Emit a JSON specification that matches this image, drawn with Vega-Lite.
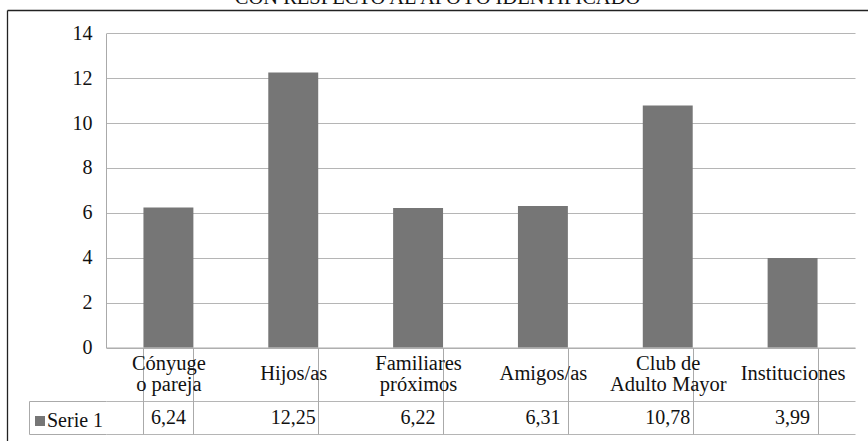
{
  "$schema": "https://vega.github.io/schema/vega-lite/v6.json",
  "width": 861,
  "height": 431,
  "autosize": {"type": "none"},
  "padding": {"left": 7, "top": 10, "right": 0, "bottom": 0},
  "background": "white",
  "title": {"text": "CON RESPECTO AL APOYO IDENTIFICADO", "fontSize": 20.5, "font": "Liberation Serif", "fontWeight": "normal", "color": "#111111", "baseline": "alphabetic", "offset": 0, "dy": 14, "anchor": "middle", "frame": "group"},
  "config": {
    "view": {"stroke": null},
    "font": "Liberation Serif",
    "locale": {"number": {"decimal": ",", "thousands": ".", "grouping": [3], "currency": ["", ""]}},
    "axis": {"labelFont": "Liberation Serif", "labelFontSize": 20, "labelColor": "#111111", "title": null, "domainColor": "#aaaaaa", "tickColor": "#aaaaaa", "gridColor": "#b5b5b5", "gridOpacity": 1},
    "legend": {"labelFont": "Liberation Serif", "labelFontSize": 20, "labelColor": "#111111", "padding": 0, "labelOffset": -3}
  },
  "data": {"values": [
    {"apoyo": "Cónyuge\no pareja", "valor": 6.24, "serie": "Serie 1"},
    {"apoyo": "Hijos/as", "valor": 12.25, "serie": "Serie 1"},
    {"apoyo": "Familiares\npróximos", "valor": 6.22, "serie": "Serie 1"},
    {"apoyo": "Amigos/as", "valor": 6.31, "serie": "Serie 1"},
    {"apoyo": "Club de\nAdulto Mayor", "valor": 10.78, "serie": "Serie 1"},
    {"apoyo": "Instituciones", "valor": 3.99, "serie": "Serie 1"}
  ]},
  "layer": [
    {
      "mark": {"type": "bar"},
      "encoding": {
        "x": {"field": "apoyo", "type": "nominal", "sort": null,
          "scale": {"range": [99, 848], "paddingInner": 0.6, "paddingOuter": 0.3},
          "axis": {"orient": "bottom", "offset": -93.5, "labelExpr": "split(datum.label, '\\n')", "labelAngle": 0, "labelBaseline": "middle",
            "labelPadding": {"condition": {"test": "indexof(datum.label, '\\n') >= 0", "value": -70.5}, "value": -60.5},
            "labelLineHeight": 20.5, "labelFontSize": 20.5, "tickBand": "extent", "tickSize": 86.5, "domain": true, "grid": false, "labelLimit": 0}},
        "y": {"field": "valor", "type": "quantitative",
          "scale": {"domain": [0, 14], "range": [337.5, 23.3], "nice": false},
          "axis": {"orient": "left", "offset": -99, "values": [0, 2, 4, 6, 8, 10, 12, 14], "ticks": false, "labelPadding": 14, "grid": true, "domain": true}},
        "color": {"field": "serie", "type": "nominal", "scale": {"range": ["#767676"]},
          "legend": {"orient": "none", "legendX": 23, "legendY": 401, "title": null, "symbolType": "square", "symbolSize": 100, "symbolStrokeWidth": 0}}
      }
    },
    {
      "mark": {"type": "text", "fontSize": 20, "color": "#111111", "baseline": "middle", "font": "Liberation Serif"},
      "encoding": {
        "x": {"field": "apoyo", "type": "nominal", "sort": null,
          "scale": {"range": [99, 848], "paddingInner": 0.6, "paddingOuter": 0.3},
          "axis": null},
        "y": {"field": "serie", "type": "nominal",
          "scale": {"range": [391, 424], "paddingInner": 0, "paddingOuter": 0},
          "axis": {"orient": "left", "offset": -22, "labels": false, "tickBand": "extent", "tickSize": -77, "grid": true, "domain": true}},
        "text": {"field": "valor", "type": "quantitative", "format": ".2f"}
      }
    },
    {
      "mark": {"type": "point", "opacity": 0},
      "encoding": {
        "x": {"field": "serie", "type": "nominal",
          "scale": {"range": [0, 1000]},
          "axis": {"orient": "top", "labels": false, "ticks": false, "domainColor": "#222222", "domainWidth": 1.3}},
        "y": {"field": "serie", "type": "nominal",
          "scale": {"range": [0, 600]},
          "axis": {"orient": "left", "labels": false, "ticks": false, "domainColor": "#222222", "domainWidth": 1.3}}
      }
    }
  ],
  "resolve": {"scale": {"x": "independent", "y": "independent"}, "axis": {"x": "independent", "y": "independent"}}
}
